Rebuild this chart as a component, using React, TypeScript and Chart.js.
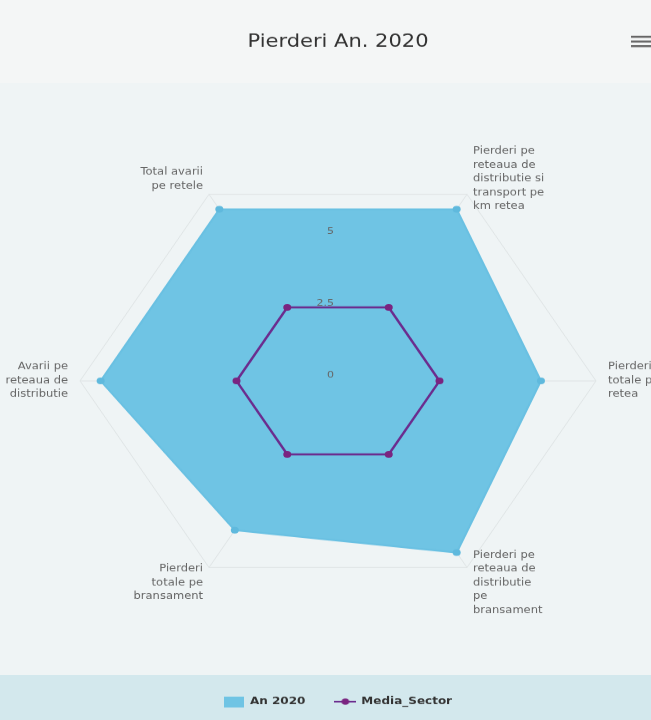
import React, { useEffect, useRef } from 'react';
import { Chart, registerables } from 'chart.js';

Chart.register(...registerables);

// ---- data ----
const titleText = 'Pierderi An. 2020';
const categories: string[][] = [
  ['Total avarii', 'pe retele'],
  ['Pierderi pe', 'reteaua de', 'distributie si', 'transport pe', 'km retea'],
  ['Pierderi', 'totale pe', 'retea'],
  ['Pierderi pe', 'reteaua de', 'distributie', 'pe', 'bransament'],
  ['Pierderi', 'totale pe', 'bransament'],
  ['Avarii pe', 'reteaua de', 'distributie'],
];
const seriesNames = ['An 2020', 'Media_Sector'];
const an2020 = [6.9, 6.9, 5.9, 6.9, 6.0, 6.9];
const mediaSector = [2.95, 2.95, 2.95, 2.95, 2.95, 2.95];
const axisMin = 0;
const axisMax = 7.5;
const axisStep = 2.5;

// ---- style ----
const BLUE = '#6fc4e4';
const BLUE_LINE = '#69c0e2';
const BLUE_POINT = '#5fb9dd';
const PURPLE = '#6b2c8e';
const PURPLE_POINT = '#7a2480';
const FONT = '"DejaVu Sans", "Open Sans", sans-serif';

// canvas bitmap is taller than shown (the reference photo is vertically compressed)
const CW = 651;
const CH = 862;

function makeRectIcon(color: string) {
  const c = document.createElement('canvas');
  c.width = 20;
  c.height = 13;
  const g = c.getContext('2d')!;
  g.fillStyle = color;
  g.fillRect(0, 0, 20, 13);
  return c;
}

function makeLineIcon(color: string, dot: string) {
  const c = document.createElement('canvas');
  c.width = 22;
  c.height = 10;
  const g = c.getContext('2d')!;
  g.strokeStyle = color;
  g.lineWidth = 2;
  g.beginPath();
  g.moveTo(0, 5);
  g.lineTo(22, 5);
  g.stroke();
  g.fillStyle = dot;
  g.beginPath();
  g.arc(11, 5, 3.8, 0, Math.PI * 2);
  g.fill();
  return c;
}

const decorPlugin = {
  id: 'decor',
  afterDatasetsDraw(chart: any) {
    const s = chart.scales.r;
    const ctx = chart.ctx;
    ctx.save();
    // radial tick labels (upright, along the vertical)
    ctx.font = `11px ${FONT}`;
    ctx.fillStyle = '#666666';
    ctx.textAlign = 'right';
    ctx.textBaseline = 'middle';
    s.ticks.forEach((t: any) => {
      if (t.value >= s.max) return;
      const d = s.getDistanceFromCenterForValue(t.value);
      ctx.fillText(String(t.value), s.xCenter - 4, s.yCenter - d - 6.5);
    });
    // category labels
    ctx.font = `11.5px ${FONT}`;
    ctx.fillStyle = '#666666';
    const lh = 16.5;
    (chart.data.labels as any[]).forEach((lab, i) => {
      const p = s.getPointPosition(i, s.drawingArea + 12);
      const cos = Math.cos(p.angle);
      const sin = Math.sin(p.angle);
      const lines: string[] = Array.isArray(lab) ? lab : [String(lab)];
      ctx.textAlign = cos > 0.1 ? 'left' : cos < -0.1 ? 'right' : 'center';
      const cy = p.y + 9 * sin;
      const y0 = cy - ((lines.length - 1) * lh) / 2;
      lines.forEach((ln, j) => ctx.fillText(ln, p.x, y0 + j * lh));
    });
    ctx.restore();
  },
  afterDraw(chart: any) {
    const ctx = chart.ctx;
    ctx.save();
    ctx.strokeStyle = '#666666';
    ctx.lineWidth = 2.4;
    [44, 49.7, 55.2].forEach((y) => {
      ctx.beginPath();
      ctx.moveTo(631, y);
      ctx.lineTo(654, y);
      ctx.stroke();
    });
    ctx.restore();
  },
};

export default function App() {
  const ref = useRef<HTMLCanvasElement | null>(null);

  useEffect(() => {
    if (!ref.current) return;
    const icons = [makeRectIcon(BLUE), makeLineIcon(PURPLE, PURPLE_POINT)];
    const chart = new Chart(ref.current, {
      type: 'radar',
      data: {
        labels: categories,
        datasets: [
          {
            label: seriesNames[0],
            data: an2020,
            fill: true,
            backgroundColor: BLUE,
            borderColor: BLUE_LINE,
            borderWidth: 2,
            pointRadius: 4,
            pointBackgroundColor: BLUE_POINT,
            pointBorderColor: BLUE_POINT,
            pointBorderWidth: 0,
            order: 2,
          },
          {
            label: seriesNames[1],
            data: mediaSector,
            fill: false,
            borderColor: PURPLE,
            borderWidth: 2.5,
            pointRadius: 4,
            pointBackgroundColor: PURPLE_POINT,
            pointBorderColor: PURPLE_POINT,
            pointBorderWidth: 0,
            order: 1,
          },
        ],
      },
      options: {
        responsive: false,
        animation: false,
        layout: { padding: { left: 80, right: 55, top: 0, bottom: 6 } },
        scales: {
          r: {
            min: axisMin,
            max: axisMax,
            startAngle: -30,
            ticks: { display: false, stepSize: axisStep },
            pointLabels: { display: false },
            grid: { color: '#dfe4e5', lineWidth: 1 },
            angleLines: { color: '#dfe4e5', lineWidth: 1 },
          },
        },
        plugins: {
          title: {
            display: true,
            text: titleText,
            color: '#333333',
            font: { family: FONT, size: 21, weight: 'normal' },
            padding: { top: 38, bottom: 44.8 },
          },
          legend: {
            position: 'bottom',
            labels: {
              usePointStyle: true,
              pointStyleWidth: 20,
              boxHeight: 12,
              padding: 30,
              color: '#333333',
              font: { family: FONT, size: 12, weight: 'bold' },
              generateLabels: (c: any) =>
                c.data.datasets.map((ds: any, i: number) => ({
                  text: ds.label,
                  pointStyle: icons[i],
                  fillStyle: 'transparent',
                  strokeStyle: 'transparent',
                  lineWidth: 0,
                  hidden: false,
                  datasetIndex: i,
                  fontColor: '#333333',
                })),
            },
          },
          tooltip: { enabled: false },
        },
      } as any,
      plugins: [decorPlugin],
    });
    return () => chart.destroy();
  }, []);

  return (
    <div
      style={{
        position: 'fixed',
        left: 0,
        top: 0,
        width: 651,
        height: 720,
        overflow: 'hidden',
        background:
          'linear-gradient(to bottom, #f4f6f6 0px, #f4f6f6 83px, #eff4f5 83px, #eff4f5 675px, #d3e8ed 675px, #d3e8ed 720px)',
      }}
    >
      <canvas
        ref={ref}
        width={CW}
        height={CH}
        style={{ width: '651px', height: '720px', display: 'block' }}
      />
    </div>
  );
}
